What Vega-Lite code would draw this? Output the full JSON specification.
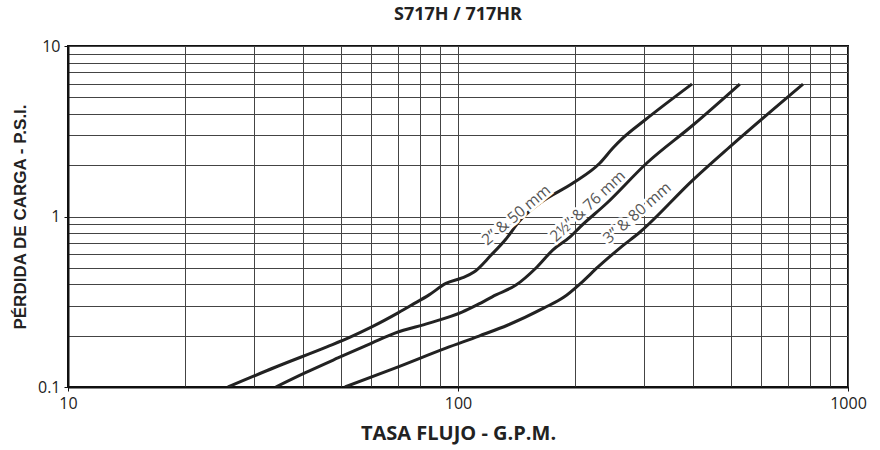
{
  "$schema": "https://vega.github.io/schema/vega-lite/v6.json",
  "autosize": "none",
  "width": 780,
  "height": 341,
  "padding": {"left": 68, "top": 46, "right": 32, "bottom": 63},
  "background": "white",
  "title": {"text": "S717H / 717HR", "font": "Open Sans", "fontSize": 18, "fontWeight": "bold", "color": "#222", "offset": 14, "anchor": "middle"},
  "config": {
    "view": {"stroke": "#111", "strokeWidth": 2},
    "axis": {"gridColor": "#444", "gridWidth": 1, "gridOpacity": 1, "domainColor": "#111", "domainWidth": 2, "tickColor": "#111", "labelFont": "Open Sans", "labelFontSize": 16, "labelColor": "#222", "titleColor": "#222"}
  },
  "datasets": {
    "curves": [
      {"s": "a", "x": 25.7, "y": 0.1},
      {"s": "a", "x": 34.1, "y": 0.131},
      {"s": "a", "x": 46.1, "y": 0.172},
      {"s": "a", "x": 52.9, "y": 0.196},
      {"s": "a", "x": 60.1, "y": 0.225},
      {"s": "a", "x": 70.2, "y": 0.272},
      {"s": "a", "x": 76.2, "y": 0.303},
      {"s": "a", "x": 84.3, "y": 0.347},
      {"s": "a", "x": 93.1, "y": 0.405},
      {"s": "a", "x": 102.4, "y": 0.436},
      {"s": "a", "x": 109.9, "y": 0.472},
      {"s": "a", "x": 121.6, "y": 0.594},
      {"s": "a", "x": 132.1, "y": 0.728},
      {"s": "a", "x": 144.3, "y": 0.95},
      {"s": "a", "x": 162.3, "y": 1.2},
      {"s": "a", "x": 197.2, "y": 1.57},
      {"s": "a", "x": 231.2, "y": 2.06},
      {"s": "a", "x": 249.6, "y": 2.52},
      {"s": "a", "x": 264.9, "y": 2.89},
      {"s": "a", "x": 301.6, "y": 3.68},
      {"s": "a", "x": 398, "y": 5.98},
      {"s": "b", "x": 34.1, "y": 0.1},
      {"s": "b", "x": 40.5, "y": 0.121},
      {"s": "b", "x": 49.2, "y": 0.148},
      {"s": "b", "x": 60.1, "y": 0.181},
      {"s": "b", "x": 68.9, "y": 0.207},
      {"s": "b", "x": 84.3, "y": 0.237},
      {"s": "b", "x": 102.4, "y": 0.275},
      {"s": "b", "x": 111.9, "y": 0.303},
      {"s": "b", "x": 125.1, "y": 0.347},
      {"s": "b", "x": 140.8, "y": 0.396},
      {"s": "b", "x": 158.5, "y": 0.499},
      {"s": "b", "x": 175.2, "y": 0.637},
      {"s": "b", "x": 193.8, "y": 0.759},
      {"s": "b", "x": 205.5, "y": 0.867},
      {"s": "b", "x": 241, "y": 1.2},
      {"s": "b", "x": 305, "y": 2.06},
      {"s": "b", "x": 400.6, "y": 3.44},
      {"s": "b", "x": 528, "y": 5.98},
      {"s": "c", "x": 51.3, "y": 0.1},
      {"s": "c", "x": 68.9, "y": 0.129},
      {"s": "c", "x": 93.1, "y": 0.169},
      {"s": "c", "x": 113.2, "y": 0.199},
      {"s": "c", "x": 134.3, "y": 0.231},
      {"s": "c", "x": 166.2, "y": 0.291},
      {"s": "c", "x": 187, "y": 0.337},
      {"s": "c", "x": 206.6, "y": 0.407},
      {"s": "c", "x": 228.6, "y": 0.506},
      {"s": "c", "x": 260, "y": 0.653},
      {"s": "c", "x": 293, "y": 0.811},
      {"s": "c", "x": 400.6, "y": 1.64},
      {"s": "c", "x": 497.7, "y": 2.56},
      {"s": "c", "x": 767, "y": 5.98}
    ],
    "labels": [
      {"label": "2” & 50 mm", "x": 141, "y": 1.02, "angle": -40},
      {"label": "2½” & 76 mm", "x": 215, "y": 1.15, "angle": -43},
      {"label": "3” & 80 mm", "x": 288, "y": 1.05, "angle": -41}
    ]
  },
  "layer": [
    {
      "data": {"name": "curves"},
      "mark": {"type": "line", "color": "#222", "strokeWidth": 3, "interpolate": "monotone", "clip": true},
      "encoding": {
        "x": {"field": "x", "type": "quantitative",
          "scale": {"type": "log", "domain": [10, 1000], "nice": false},
          "axis": {
            "values": [10, 20, 30, 40, 50, 60, 70, 80, 90, 100, 200, 300, 400, 500, 600, 700, 800, 900, 1000],
            "labelExpr": "datum.value == 10 || datum.value == 100 || datum.value == 1000 ? format(datum.value, 'd') : ''",
            "tickOpacity": {"condition": {"test": "datum.value == 10 || datum.value == 100 || datum.value == 1000", "value": 1}, "value": 0},
            "tickSize": 4,
            "labelPadding": 4,
            "labelFlush": false,
            "title": "TASA FLUJO - G.P.M.",
            "titleFont": "Open Sans", "titleFontSize": 20, "titleFontWeight": "bold", "titlePadding": 12
          }
        },
        "y": {"field": "y", "type": "quantitative",
          "scale": {"type": "log", "domain": [0.1, 10], "nice": false},
          "axis": {
            "values": [0.1, 0.2, 0.3, 0.4, 0.5, 0.6, 0.7, 0.8, 0.9, 1, 2, 3, 4, 5, 6, 7, 8, 9, 10],
            "labelExpr": "datum.value == 10 ? '10' : datum.value == 1 ? '1' : datum.value == 0.1 ? '0.1' : ''",
            "tickOpacity": {"condition": {"test": "datum.value == 10 || datum.value == 1 || datum.value == 0.1", "value": 1}, "value": 0},
            "tickSize": 4,
            "labelPadding": 4,
            "labelFlush": false,
            "title": "PÉRDIDA DE CARGA - P.S.I.",
            "titleFont": "Liberation Sans", "titleFontSize": 17, "titleFontWeight": "bold", "titlePadding": 8
          }
        },
        "detail": {"field": "s", "type": "nominal"}
      }
    },
    {
      "data": {"name": "labels"},
      "mark": {"type": "text", "font": "Open Sans", "fontSize": 15.5, "color": "white", "stroke": "white", "strokeWidth": 5, "align": "center", "baseline": "middle"},
      "encoding": {
        "x": {"field": "x", "type": "quantitative"},
        "y": {"field": "y", "type": "quantitative"},
        "text": {"field": "label"},
        "angle": {"field": "angle", "type": "quantitative", "scale": null}
      }
    },
    {
      "data": {"name": "labels"},
      "mark": {"type": "text", "font": "Open Sans", "fontSize": 15.5, "color": "#555", "align": "center", "baseline": "middle"},
      "encoding": {
        "x": {"field": "x", "type": "quantitative"},
        "y": {"field": "y", "type": "quantitative"},
        "text": {"field": "label"},
        "angle": {"field": "angle", "type": "quantitative", "scale": null}
      }
    }
  ]
}
